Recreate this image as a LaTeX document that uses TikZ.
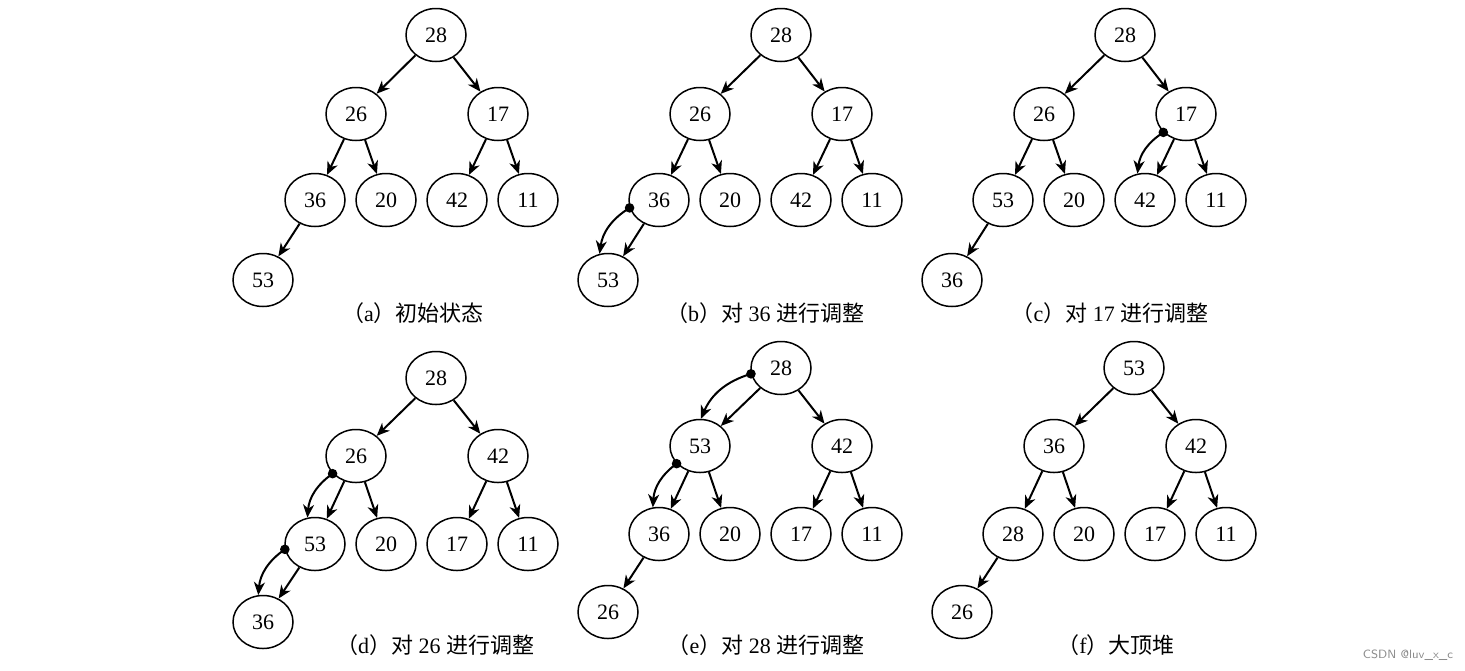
\documentclass[tikz,border=0pt]{standalone}
\usepackage{fontspec}
\setmainfont{Liberation Serif}
\newfontfamily\cjk{Noto Sans CJK SC}
\usetikzlibrary{shapes.geometric,arrows.meta}
\begin{document}
\begin{tikzpicture}[x=0.5pt,y=-0.5pt,
 nd/.style={ellipse,draw,line width=0.75pt,minimum width=30pt,minimum height=26.5pt,inner sep=0pt,font=\fontsize{11}{13}\selectfont},
 ar/.style={line width=1pt,-{Stealth[length=6.5pt,width=5.5pt,inset=2pt]}},
 captxt/.style={font=\fontsize{11}{13}\selectfont},
 wm/.style={font=\sffamily\fontsize{6}{7}\selectfont,text=black!45}]
\useasboundingbox (0,0) rectangle (1465,670);
% (a)
\node[nd] (a1) at (436,35) {28};
\node[nd] (a2) at (356,114) {26};
\node[nd] (a3) at (498,114) {17};
\node[nd] (a4) at (315,200) {36};
\node[nd] (a5) at (386,200) {20};
\node[nd] (a6) at (457,200) {42};
\node[nd] (a7) at (528,200) {11};
\node[nd] (a8) at (263,280) {53};
\node[captxt] (ca) at (413,313) {{\cjk （}a{\cjk ）初始状态}};
\draw[ar] (a1)--(a2); \draw[ar] (a1)--(a3);
\draw[ar] (a2)--(a4); \draw[ar] (a2)--(a5);
\draw[ar] (a3)--(a6); \draw[ar] (a3)--(a7);
\draw[ar] (a4)--(a8);
% (b)
\node[nd] (b1) at (781,35) {28};
\node[nd] (b2) at (700,114) {26};
\node[nd] (b3) at (842,114) {17};
\node[nd] (b4) at (659,200) {36};
\node[nd] (b5) at (730,200) {20};
\node[nd] (b6) at (801,200) {42};
\node[nd] (b7) at (872,200) {11};
\node[nd] (b8) at (608,280) {53};
\node[captxt] (cb) at (765,313) {{\cjk （}b{\cjk ）对} 36 {\cjk 进行调整}};
\draw[ar] (b1)--(b2); \draw[ar] (b1)--(b3);
\draw[ar] (b2)--(b4); \draw[ar] (b2)--(b5);
\draw[ar] (b3)--(b6); \draw[ar] (b3)--(b7);
\draw[ar] (b4)--(b8);
\coordinate (bd) at (b4.195);
\fill (bd) circle (2.4pt);
\draw[ar] (bd) to[bend right=25] (b8.108);
% (c)
\node[nd] (c1) at (1125,35) {28};
\node[nd] (c2) at (1044,114) {26};
\node[nd] (c3) at (1186,114) {17};
\node[nd] (c4) at (1003,200) {53};
\node[nd] (c5) at (1074,200) {20};
\node[nd] (c6) at (1145,200) {42};
\node[nd] (c7) at (1216,200) {11};
\node[nd] (c8) at (952,280) {36};
\node[captxt] (cc) at (1110,313) {{\cjk （}c{\cjk ）对} 17 {\cjk 进行调整}};
\draw[ar] (c1)--(c2); \draw[ar] (c1)--(c3);
\draw[ar] (c2)--(c4); \draw[ar] (c2)--(c5);
\draw[ar] (c3)--(c6); \draw[ar] (c3)--(c7);
\draw[ar] (c4)--(c8);
\coordinate (cd) at (c3.219);
\fill (cd) circle (2.4pt);
\draw[ar] (cd) to[bend right=25] (c6.106);
% (d)
\node[nd] (d1) at (436,378) {28};
\node[nd] (d2) at (356,456) {26};
\node[nd] (d3) at (498,456) {42};
\node[nd] (d4) at (315,544) {53};
\node[nd] (d5) at (386,544) {20};
\node[nd] (d6) at (457,544) {17};
\node[nd] (d7) at (528,544) {11};
\node[nd] (d8) at (263,622) {36};
\node[captxt] (cd0) at (435,645) {{\cjk （}d{\cjk ）对} 26 {\cjk 进行调整}};
\draw[ar] (d1)--(d2); \draw[ar] (d1)--(d3);
\draw[ar] (d2)--(d4); \draw[ar] (d2)--(d5);
\draw[ar] (d3)--(d6); \draw[ar] (d3)--(d7);
\draw[ar] (d4)--(d8);
\coordinate (dd1) at (d2.217);
\fill (dd1) circle (2.4pt);
\draw[ar] (dd1) to[bend right=25] (d4.106);
\coordinate (dd2) at (d4.190);
\fill (dd2) circle (2.4pt);
\draw[ar] (dd2) to[bend right=25] (d8.100);
% (e)
\node[nd] (e1) at (781,368) {28};
\node[nd] (e2) at (700,446) {53};
\node[nd] (e3) at (842,446) {42};
\node[nd] (e4) at (659,534) {36};
\node[nd] (e5) at (730,534) {20};
\node[nd] (e6) at (801,534) {17};
\node[nd] (e7) at (872,534) {11};
\node[nd] (e8) at (608,612) {26};
\node[captxt] (ce) at (766,645) {{\cjk （}e{\cjk ）对} 28 {\cjk 进行调整}};
\draw[ar] (e1)--(e2); \draw[ar] (e1)--(e3);
\draw[ar] (e2)--(e4); \draw[ar] (e2)--(e5);
\draw[ar] (e3)--(e6); \draw[ar] (e3)--(e7);
\draw[ar] (e4)--(e8);
\coordinate (ed1) at (e1.191);
\fill (ed1) circle (2.4pt);
\draw[ar] (ed1) to[bend right=25] (e2.88);
\coordinate (ed2) at (e2.217);
\fill (ed2) circle (2.4pt);
\draw[ar] (ed2) to[bend right=25] (e4.103);
% (f)
\node[nd] (f1) at (1134,368) {53};
\node[nd] (f2) at (1054,446) {36};
\node[nd] (f3) at (1196,446) {42};
\node[nd] (f4) at (1013,534) {28};
\node[nd] (f5) at (1084,534) {20};
\node[nd] (f6) at (1155,534) {17};
\node[nd] (f7) at (1226,534) {11};
\node[nd] (f8) at (962,612) {26};
\node[captxt] (cf) at (1116,645) {{\cjk （}f{\cjk ）大顶堆}};
\draw[ar] (f1)--(f2); \draw[ar] (f1)--(f3);
\draw[ar] (f2)--(f4); \draw[ar] (f2)--(f5);
\draw[ar] (f3)--(f6); \draw[ar] (f3)--(f7);
\draw[ar] (f4)--(f8);
\node[wm] (w) at (1408,655) {CSDN @luv\_x\_c};
\end{tikzpicture}
\end{document}
